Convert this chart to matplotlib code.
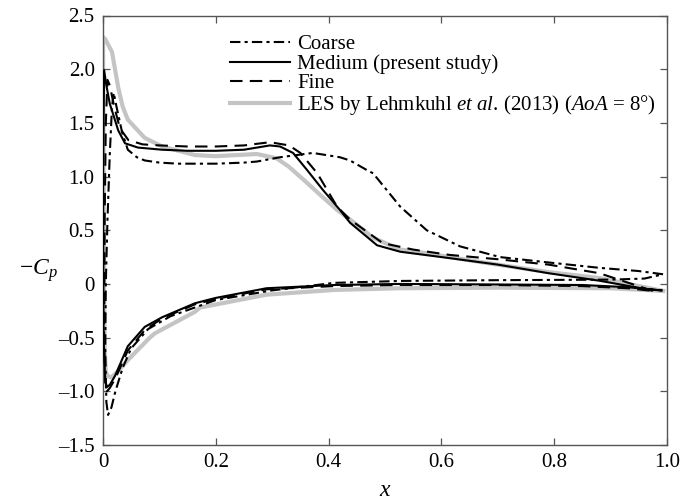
import matplotlib
matplotlib.use("Agg")
import matplotlib.pyplot as plt
from matplotlib.ticker import FuncFormatter

plt.rcParams["font.family"] = ["Liberation Serif", "DejaVu Serif"]
plt.rcParams["mathtext.fontset"] = "custom"
plt.rcParams["mathtext.rm"] = "Liberation Serif"
plt.rcParams["mathtext.it"] = "Liberation Serif:italic"
plt.rcParams["mathtext.bf"] = "Liberation Serif:bold"

# Pressure distribution -Cp along the chord; upper (suction) and lower (pressure) sides,
# both listed from the leading edge towards the trailing edge.
coarse_x_up = [0.005, 0.008, 0.012, 0.016, 0.019, 0.024, 0.034, 0.044, 0.06, 0.074, 0.1, 0.133,
               0.2, 0.25, 0.273, 0.314, 0.372, 0.42, 0.438, 0.468, 0.479, 0.527, 0.574, 0.633,
               0.704, 0.79, 0.88, 0.95, 0.993]
coarse_cp_up = [0.0, 0.6, 1.2, 1.65, 1.78, 1.65, 1.41, 1.25, 1.18, 1.15, 1.13, 1.12,
                1.12, 1.13, 1.14, 1.18, 1.22, 1.18, 1.15, 1.06, 1.03, 0.72, 0.50, 0.35,
                0.25, 0.20, 0.15, 0.12, 0.09]
coarse_x_lo = [0.005, 0.004, 0.006, 0.009, 0.015, 0.022, 0.035, 0.05, 0.08, 0.12, 0.2, 0.3,
               0.41, 0.53, 0.7, 0.9, 0.96, 0.993]
coarse_cp_lo = [0.0, -0.6, -1.1, -1.22, -1.15, -1.0, -0.78, -0.6, -0.42, -0.3, -0.15, -0.06,
                0.01, 0.028, 0.035, 0.04, 0.05, 0.09]

medium_x_up = [0.0, 0.002, 0.006, 0.012, 0.027, 0.039, 0.062, 0.105, 0.15, 0.2, 0.25, 0.296,
               0.314, 0.337, 0.362, 0.39, 0.42, 0.438, 0.486, 0.527, 0.615, 0.7, 0.79, 0.88,
               0.965, 0.99]
medium_cp_up = [1.0, 1.99, 1.85, 1.68, 1.43, 1.31, 1.27, 1.25, 1.24, 1.24, 1.25, 1.29,
                1.28, 1.22, 1.06, 0.875, 0.69, 0.57, 0.36, 0.30, 0.24, 0.18, 0.10, 0.03,
                -0.05, -0.06]
medium_x_lo = [0.0, 0.001, 0.004, 0.007, 0.012, 0.021, 0.044, 0.074, 0.105, 0.163, 0.2, 0.29,
               0.41, 0.527, 0.7, 0.85, 0.93, 0.99]
medium_cp_lo = [1.0, -0.5, -0.9, -0.96, -0.94, -0.86, -0.58, -0.40, -0.31, -0.18, -0.13, -0.04,
                -0.01, 0.0, -0.005, -0.01, -0.03, -0.06]

fine_x_up = [0.003, 0.005, 0.008, 0.012, 0.02, 0.03, 0.045, 0.07, 0.1, 0.15, 0.2, 0.25,
             0.296, 0.33, 0.35, 0.38, 0.415, 0.438, 0.496, 0.55, 0.615, 0.7, 0.79, 0.88,
             0.975]
fine_cp_up = [0.6, 1.5, 1.9, 1.85, 1.65, 1.45, 1.34, 1.3, 1.29, 1.28, 1.28, 1.29,
              1.32, 1.29, 1.22, 1.03, 0.72, 0.60, 0.38, 0.32, 0.27, 0.23, 0.18, 0.10,
              -0.065]
fine_x_lo = [0.003, 0.002, 0.004, 0.007, 0.012, 0.022, 0.044, 0.074, 0.105, 0.163, 0.2, 0.29,
             0.41, 0.527, 0.7, 0.85, 0.93, 0.975]
fine_cp_lo = [0.6, -0.5, -0.92, -1.0, -0.97, -0.88, -0.62, -0.43, -0.32, -0.19, -0.14, -0.05,
              -0.02, -0.01, -0.01, -0.02, -0.04, -0.065]

les_x_up = [0.0, 0.004, 0.01, 0.016, 0.027, 0.035, 0.044, 0.074, 0.105, 0.163, 0.2, 0.273,
            0.308, 0.33, 0.36, 0.385, 0.415, 0.438, 0.479, 0.527, 0.557, 0.674, 0.79, 0.88,
            0.993]
les_cp_up = [2.3, 2.28, 2.22, 2.16, 1.83, 1.65, 1.53, 1.36, 1.28, 1.20, 1.19, 1.21,
             1.17, 1.09, 0.95, 0.83, 0.69, 0.60, 0.43, 0.32, 0.30, 0.20, 0.11, 0.055,
             -0.065]
les_x_lo = [0.0, 0.002, 0.003, 0.005, 0.009, 0.015, 0.025, 0.044, 0.083, 0.092, 0.163, 0.172,
            0.29, 0.41, 0.527, 0.7, 0.9, 0.993]
les_cp_lo = [2.3, 0.0, -0.6, -0.82, -0.86, -0.87, -0.82, -0.71, -0.50, -0.46, -0.26, -0.22,
             -0.10, -0.056, -0.04, -0.035, -0.04, -0.065]

x_ticks = [0.0, 0.2, 0.4, 0.6, 0.8, 1.0]
y_ticks = [-1.5, -1.0, -0.5, 0.0, 0.5, 1.0, 1.5, 2.0, 2.5]


def loop(x_up, cp_up, x_lo, cp_lo):
    """Join both sides into one closed trace: trailing edge -> leading edge -> trailing edge."""
    return x_up[::-1] + x_lo, cp_up[::-1] + cp_lo


fig = plt.figure(figsize=(6.82, 5.0), dpi=100)
ax = fig.add_axes([0.151, 0.11, 0.827, 0.859])

lw = 1.5
cx, cy = loop(coarse_x_up, coarse_cp_up, coarse_x_lo, coarse_cp_lo)
mx, my = loop(medium_x_up, medium_cp_up, medium_x_lo, medium_cp_lo)
fx, fy = loop(fine_x_up, fine_cp_up, fine_x_lo, fine_cp_lo)
lx, ly = loop(les_x_up, les_cp_up, les_x_lo, les_cp_lo)

ax.plot(lx, ly, color="#c4c4c4", lw=3.0, solid_joinstyle="round",
        label=r"LES by Lehmkuhl $\it{et\ al}$. (2013) ($\it{AoA}$ = 8°)", zorder=1)
ax.plot(cx, cy, color="black", lw=lw, dashes=(5, 2, 1.5, 2), label="Coarse", zorder=3)
ax.plot(mx, my, color="black", lw=lw, label="Medium (present study)", zorder=3)
ax.plot(fx, fy, color="black", lw=lw, dashes=(6, 3.5), label="Fine", zorder=3)

ax.set_xlim(0, 1.0)
ax.set_ylim(-1.5, 2.5)
ax.set_xticks(x_ticks)
ax.set_yticks(y_ticks)


def fmt(v, pos):
    if abs(v) < 1e-9:
        return "0"
    return f"{v:.1f}".replace("-", "\u2013")


ax.xaxis.set_major_formatter(FuncFormatter(fmt))
ax.yaxis.set_major_formatter(FuncFormatter(fmt))
ax.tick_params(direction="in", top=True, right=True, length=5, width=0.9,
               color="#555555", labelsize=15, pad=6)
for s in ax.spines.values():
    s.set_color("#555555")
    s.set_linewidth(1.0)

ax.set_xlabel(r"$x$", fontsize=17, va="center")
ax.xaxis.set_label_coords(0.5, -0.107)
ax.set_ylabel(r"$-C_p$", fontsize=17, rotation=0, va="center", ha="center")
ax.yaxis.set_label_coords(-0.115, 0.405)

handles, labels = ax.get_legend_handles_labels()
order = [1, 2, 3, 0]
ax.legend([handles[i] for i in order], [labels[i] for i in order],
          loc="upper left", bbox_to_anchor=(0.21, 0.975), frameon=False,
          fontsize=15, handlelength=2.9, handletextpad=0.35, labelspacing=0.0,
          borderaxespad=0)

fig.savefig("out.png", dpi=100)
